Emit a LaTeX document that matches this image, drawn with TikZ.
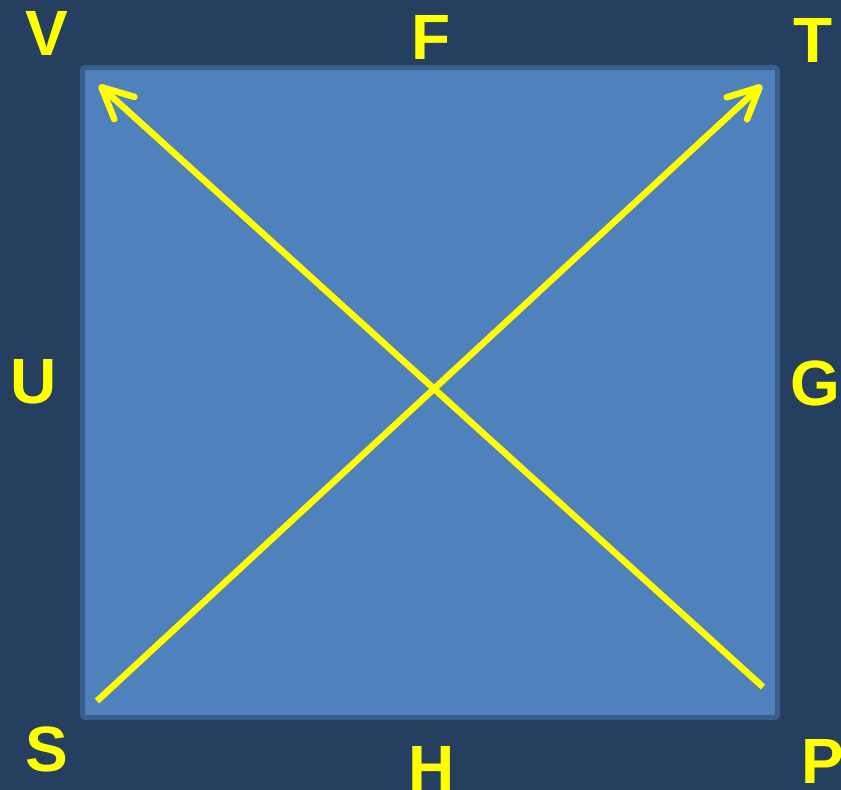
\documentclass[tikz,border=0pt]{standalone}
\usepackage{fontspec}
\setmainfont{Liberation Sans}
\usetikzlibrary{arrows.meta}
\definecolor{bgnavy}{HTML}{253F60}
\definecolor{boxfill}{HTML}{4F81BD}
\definecolor{boxedge}{HTML}{3A5E8C}
\definecolor{ylw}{HTML}{FFFF00}
\tikzset{
  lbl/.style={text=ylw, font=\fontsize{64}{64}\bfseries\selectfont, inner sep=0pt, anchor=base},
  diag/.style={draw=ylw, line width=6.5pt, line cap=butt,
    -{Straight Barb[length=31pt, width=30pt, line cap=round, line join=round]}}
}
\begin{document}
\begin{tikzpicture}[x=1pt,y=-1pt]
\fill[bgnavy] (0,0) rectangle (841,790);
\useasboundingbox (0,0) rectangle (841,790);
\draw[fill=boxfill, draw=boxedge, line width=5pt, rounded corners=3pt] (82.5,67.5) rectangle (777.5,717.5);
\coordinate (s0) at (97,701);
\coordinate (t0) at (762,85);
\coordinate (p0) at (763,687);
\coordinate (v0) at (99,85);
\draw[diag] (s0) -- (t0);
\draw[diag] (p0) -- (v0);
\node[lbl] (V) at (47,55) {V};
\node[lbl] (F) at (431,59) {F};
\node[lbl] (T) at (813,62) {T};
\node[lbl] (U) at (34,403) {U};
\node[lbl] (G) at (815,405) {G};
\node[lbl] (S) at (47,771) {S};
\node[lbl] (H) at (432,790) {H};
\node[lbl] (P) at (823,783) {P};
\end{tikzpicture}
\end{document}
